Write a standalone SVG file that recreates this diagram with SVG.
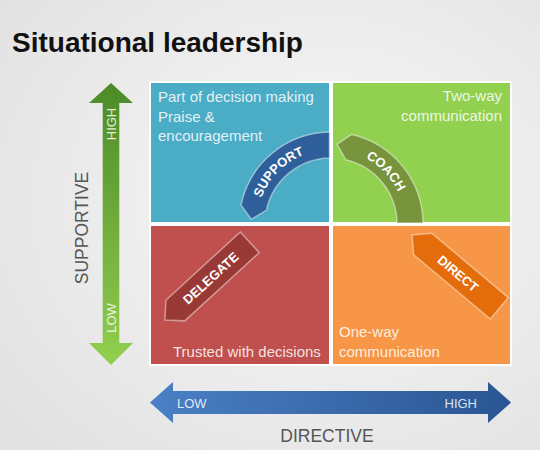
<svg xmlns="http://www.w3.org/2000/svg" width="540" height="450" viewBox="0 0 540 450">
  <defs>
    <radialGradient id="bg" cx="60%" cy="45%" r="75%">
      <stop offset="0" stop-color="#f8f8f8"/>
      <stop offset="1" stop-color="#e2e2e2"/>
    </radialGradient>
    <linearGradient id="gv" x1="0" y1="0" x2="0" y2="1">
      <stop offset="0" stop-color="#4c8a27"/>
      <stop offset="1" stop-color="#93cf4f"/>
    </linearGradient>
    <linearGradient id="gh" x1="0" y1="0" x2="1" y2="0">
      <stop offset="0" stop-color="#4a80c5"/>
      <stop offset="1" stop-color="#2a5593"/>
    </linearGradient>
    <path id="supPath" d="M258.2,208.5 A74.4,74.4 0 0 1 331,149.6"/>
    <path id="coaPath" d="M347.7,151.5 A74.4,74.4 0 0 1 405.4,224"/>
    <style>
      text { font-family: "Liberation Sans", Arial, sans-serif; }
      .quad { stroke: #ffffff; stroke-width: 2; }
      .qtxt { font-size: 15px; fill: #ffffff; fill-opacity: 0.85; }
      .lbl { font-size: 13px; font-weight: bold; fill: #ffffff; }
      .shape { stroke: #ffffff; stroke-opacity: 0.45; stroke-width: 1.5; }
      .axlbl { font-size: 13px; fill: #ffffff; fill-opacity: 0.85; }
      .axname { font-size: 17.5px; fill: #555555; }
    </style>
  </defs>

  <rect width="540" height="450" fill="url(#bg)"/>

  <text id="title" x="12" y="52" font-size="28" font-weight="bold" fill="#111111">Situational leadership</text>

  <g id="q-support">
    <rect class="quad" x="150" y="82" width="180" height="141" fill="#4bacc6"/>
    <text class="qtxt" x="158" y="102">Part of decision making</text>
    <text class="qtxt" x="158" y="121.5">Praise &amp;</text>
    <text class="qtxt" x="158" y="141">encouragement</text>
    <path class="shape" fill="#2f5f9b" d="M329.5,132 A92,92 0 0 0 241,204.9 L251.2,219.3 L266.4,210.3 A66,66 0 0 1 329.5,158 Z"/>
    <text class="lbl"><textPath href="#supPath" startOffset="42%" text-anchor="middle">SUPPORT</textPath></text>
  </g>

  <g id="q-coach">
    <rect class="quad" x="332" y="82" width="179" height="141" fill="#92d050"/>
    <text class="qtxt" x="502" y="101" text-anchor="end">Two-way</text>
    <text class="qtxt" x="502" y="121" text-anchor="end">communication</text>
    <path class="shape" fill="#77933c" d="M337.1,144.3 L351.7,134.4 A92,92 0 0 1 423,223 L397,223 A66,66 0 0 0 345.8,159.7 Z"/>
    <text class="lbl"><textPath href="#coaPath" startOffset="43%" text-anchor="middle">COACH</textPath></text>
  </g>

  <g id="q-delegate">
    <rect class="quad" x="150" y="225" width="180" height="140" fill="#c0504d"/>
    <text class="qtxt" x="173" y="357">Trusted with decisions</text>
    <g transform="translate(165,320) rotate(-42.5)">
      <path class="shape" fill="#993936" d="M0,0 L14,-14 L115,-14 L115,14 L14,14 Z"/>
      <text class="lbl" x="62" y="4.6" text-anchor="middle">DELEGATE</text>
    </g>
  </g>

  <g id="q-direct">
    <rect class="quad" x="332" y="225" width="179" height="140" fill="#f79646"/>
    <text class="qtxt" x="339" y="337">One-way</text>
    <text class="qtxt" x="339" y="357">communication</text>
    <g transform="translate(412,235) rotate(40)">
      <path class="shape" fill="#e46c0a" d="M0,0 L14,-14 L114,-14 L114,14 L14,14 Z"/>
      <text class="lbl" x="60" y="4.6" text-anchor="middle">DIRECT</text>
    </g>
  </g>

  <g id="connectors">
    <g id="axis-supportive">
      <polygon fill="url(#gv)" points="111,83 133,103 119.3,103 119.3,343 133,343 111,365 89,343 102.7,343 102.7,103 89,103"/>
      <text class="axlbl" transform="translate(115.5,124) rotate(-90)" text-anchor="middle" font-size="12.5">HIGH</text>
      <text class="axlbl" transform="translate(115.5,318) rotate(-90)" text-anchor="middle" font-size="12.5">LOW</text>
      <text class="axname" transform="translate(88,228) rotate(-90)" text-anchor="middle">SUPPORTIVE</text>
    </g>
    <g id="axis-directive">
      <polygon fill="url(#gh)" points="150,402.5 173,382 173,391 488,391 488,382 511,402.5 488,423 488,414 173,414 173,423"/>
      <text class="axlbl" x="177" y="407.5">LOW</text>
      <text class="axlbl" x="477" y="407.5" text-anchor="end">HIGH</text>
      <text class="axname" x="327" y="442" text-anchor="middle">DIRECTIVE</text>
    </g>
  </g>
</svg>
